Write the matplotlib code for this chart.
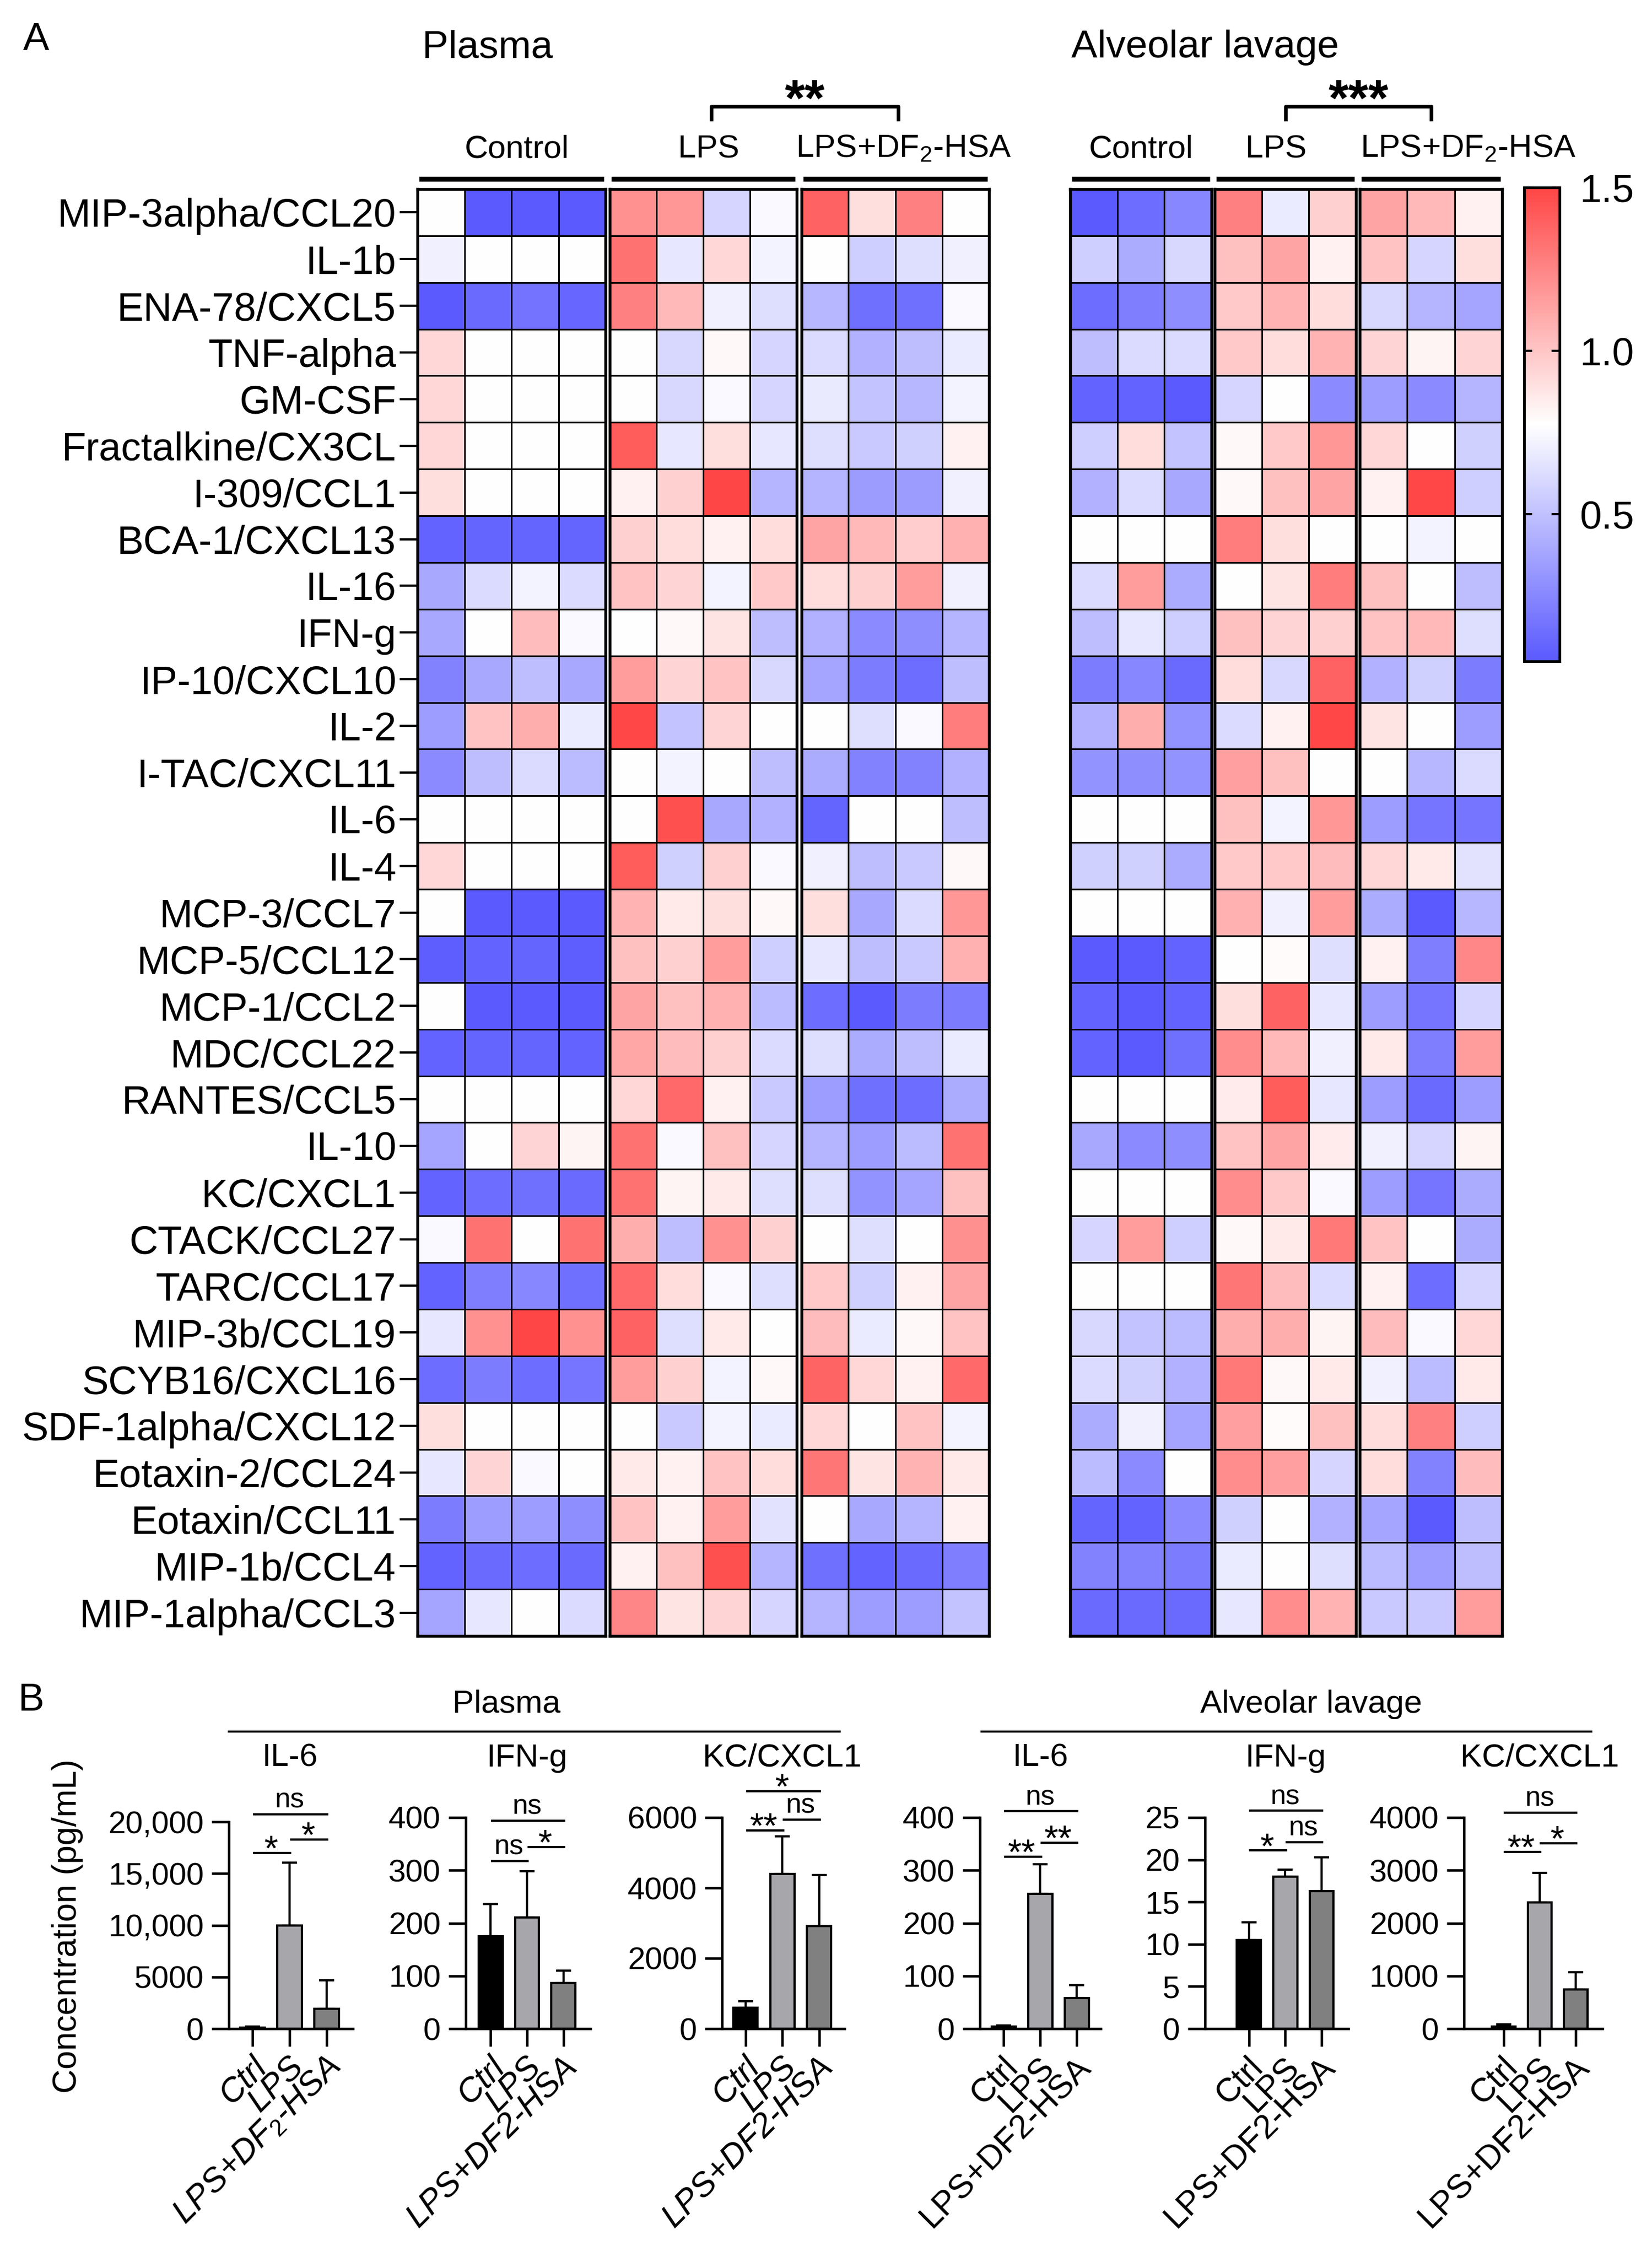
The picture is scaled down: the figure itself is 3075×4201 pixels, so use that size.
import matplotlib
matplotlib.use('Agg')
import matplotlib.pyplot as plt
import numpy as np
from matplotlib.colors import LinearSegmentedColormap, Normalize
from matplotlib.cm import ScalarMappable
from matplotlib.lines import Line2D
from matplotlib import transforms

plt.rcParams['font.family'] = ['Liberation Sans', 'DejaVu Sans']
plt.rcParams['mathtext.fontset'] = 'custom'
plt.rcParams['mathtext.rm'] = 'Liberation Sans'
plt.rcParams['mathtext.it'] = 'Liberation Sans:italic'
plt.rcParams['mathtext.bf'] = 'Liberation Sans:bold'

# ---------------- data: heatmap (panel A) ----------------
cytokines = ['MIP-3alpha/CCL20', 'IL-1b', 'ENA-78/CXCL5', 'TNF-alpha', 'GM-CSF',
             'Fractalkine/CX3CL', 'I-309/CCL1', 'BCA-1/CXCL13', 'IL-16', 'IFN-g',
             'IP-10/CXCL10', 'IL-2', 'I-TAC/CXCL11', 'IL-6', 'IL-4', 'MCP-3/CCL7',
             'MCP-5/CCL12', 'MCP-1/CCL2', 'MDC/CCL22', 'RANTES/CCL5', 'IL-10',
             'KC/CXCL1', 'CTACK/CCL27', 'TARC/CCL17', 'MIP-3b/CCL19', 'SCYB16/CXCL16',
             'SDF-1alpha/CXCL12', 'Eotaxin-2/CCL24', 'Eotaxin/CCL11', 'MIP-1b/CCL4',
             'MIP-1alpha/CCL3']

heat_groups = ['Control', 'LPS', 'LPS+DF$_2$-HSA']

# plasma: 4 control, 4 LPS, 4 LPS+DF2-HSA
plasma_heat = [
    [0.78, 0.05, 0.05, 0.05, 1.20, 1.18, 0.59, 0.75, 1.39, 0.90, 1.27, 0.78],
    [0.71, 0.78, 0.78, 0.78, 1.33, 0.67, 0.93, 0.72, 0.78, 0.56, 0.63, 0.71],
    [0.05, 0.12, 0.16, 0.11, 1.27, 1.05, 0.71, 0.63, 0.46, 0.15, 0.15, 0.75],
    [0.93, 0.78, 0.78, 0.78, 0.78, 0.60, 0.80, 0.59, 0.62, 0.43, 0.49, 0.69],
    [0.93, 0.78, 0.78, 0.78, 0.78, 0.60, 0.75, 0.59, 0.68, 0.51, 0.46, 0.72],
    [0.93, 0.78, 0.78, 0.78, 1.41, 0.67, 0.90, 0.67, 0.63, 0.54, 0.57, 0.83],
    [0.90, 0.78, 0.78, 0.78, 0.83, 0.96, 1.50, 0.45, 0.45, 0.34, 0.34, 0.71],
    [0.09, 0.10, 0.10, 0.10, 0.96, 0.91, 0.83, 0.91, 1.13, 1.05, 0.97, 1.08],
    [0.39, 0.62, 0.72, 0.62, 1.01, 0.94, 0.72, 0.99, 0.91, 0.96, 1.16, 0.71],
    [0.39, 0.78, 1.04, 0.75, 0.78, 0.80, 0.88, 0.49, 0.43, 0.27, 0.28, 0.45],
    [0.23, 0.39, 0.49, 0.39, 1.16, 0.94, 1.01, 0.60, 0.38, 0.20, 0.14, 0.49],
    [0.35, 1.01, 1.09, 0.69, 1.49, 0.51, 0.94, 0.78, 0.78, 0.63, 0.75, 1.28],
    [0.27, 0.49, 0.62, 0.48, 0.78, 0.72, 0.78, 0.49, 0.41, 0.23, 0.23, 0.43],
    [0.78, 0.78, 0.78, 0.78, 0.78, 1.46, 0.39, 0.43, 0.10, 0.78, 0.78, 0.49],
    [0.93, 0.78, 0.78, 0.78, 1.41, 0.57, 0.96, 0.75, 0.71, 0.49, 0.54, 0.80],
    [0.78, 0.05, 0.05, 0.05, 1.07, 0.86, 0.90, 0.80, 0.90, 0.39, 0.62, 1.18],
    [0.07, 0.09, 0.10, 0.07, 1.02, 0.96, 1.16, 0.56, 0.67, 0.49, 0.54, 1.08],
    [0.78, 0.05, 0.05, 0.05, 1.13, 1.02, 1.08, 0.48, 0.14, 0.05, 0.20, 0.20],
    [0.09, 0.10, 0.10, 0.09, 1.12, 1.04, 0.96, 0.62, 0.63, 0.41, 0.49, 0.69],
    [0.78, 0.78, 0.78, 0.78, 0.93, 1.36, 0.83, 0.54, 0.35, 0.15, 0.14, 0.41],
    [0.38, 0.78, 0.94, 0.82, 1.33, 0.75, 1.02, 0.59, 0.45, 0.35, 0.48, 1.33],
    [0.09, 0.14, 0.15, 0.12, 1.33, 0.82, 0.86, 0.63, 0.63, 0.30, 0.38, 1.02],
    [0.75, 1.33, 0.78, 1.33, 1.09, 0.49, 1.20, 0.96, 0.78, 0.63, 0.78, 1.21],
    [0.09, 0.21, 0.25, 0.15, 1.36, 0.91, 0.75, 0.63, 0.99, 0.57, 0.83, 1.13],
    [0.67, 1.20, 1.50, 1.20, 1.39, 0.63, 0.86, 0.78, 1.04, 0.69, 0.80, 1.01],
    [0.14, 0.20, 0.14, 0.17, 1.16, 0.96, 0.72, 0.80, 1.38, 0.93, 0.83, 1.36],
    [0.90, 0.78, 0.78, 0.78, 0.78, 0.54, 0.72, 0.69, 0.93, 0.78, 1.01, 0.72],
    [0.67, 0.94, 0.75, 0.78, 0.86, 0.83, 1.01, 0.91, 1.31, 0.88, 1.07, 0.86],
    [0.20, 0.35, 0.35, 0.28, 1.01, 0.83, 1.16, 0.65, 0.78, 0.39, 0.45, 0.83],
    [0.09, 0.12, 0.14, 0.12, 0.83, 1.02, 1.46, 0.45, 0.15, 0.09, 0.12, 0.21],
    [0.38, 0.67, 0.78, 0.62, 1.25, 0.88, 0.94, 0.59, 0.45, 0.35, 0.35, 0.51],
]

# alveolar lavage: 3 control, 3 LPS, 3 LPS+DF2-HSA
lavage_heat = [
    [0.05, 0.14, 0.25, 1.27, 0.69, 0.96, 1.13, 1.05, 0.83],
    [0.56, 0.41, 0.60, 1.02, 1.13, 0.83, 1.01, 0.59, 0.90],
    [0.14, 0.21, 0.28, 0.99, 1.07, 0.91, 0.60, 0.45, 0.38],
    [0.49, 0.62, 0.62, 0.99, 0.91, 1.07, 0.94, 0.82, 0.94],
    [0.09, 0.09, 0.05, 0.59, 0.78, 0.27, 0.35, 0.27, 0.45],
    [0.56, 0.91, 0.51, 0.80, 0.99, 1.18, 0.93, 0.78, 0.57],
    [0.43, 0.62, 0.39, 0.80, 1.02, 1.13, 0.83, 1.49, 0.56],
    [0.78, 0.78, 0.78, 1.28, 0.90, 0.78, 0.78, 0.72, 0.78],
    [0.62, 1.16, 0.41, 0.78, 0.88, 1.28, 1.02, 0.78, 0.49],
    [0.49, 0.67, 0.56, 1.02, 0.94, 0.96, 1.01, 1.05, 0.63],
    [0.20, 0.25, 0.12, 0.91, 0.60, 1.39, 0.43, 0.57, 0.20],
    [0.43, 1.09, 0.30, 0.62, 0.83, 1.49, 0.88, 0.78, 0.35],
    [0.30, 0.28, 0.30, 1.15, 1.02, 0.78, 0.78, 0.46, 0.62],
    [0.78, 0.78, 0.78, 1.02, 0.72, 1.18, 0.35, 0.17, 0.17],
    [0.57, 0.57, 0.41, 0.99, 0.99, 1.04, 0.93, 0.86, 0.65],
    [0.78, 0.78, 0.78, 1.08, 0.71, 1.16, 0.41, 0.05, 0.46],
    [0.05, 0.05, 0.09, 0.78, 0.79, 0.63, 0.83, 0.21, 1.24],
    [0.09, 0.05, 0.09, 0.90, 1.39, 0.67, 0.35, 0.17, 0.59],
    [0.09, 0.05, 0.15, 1.22, 1.05, 0.71, 0.86, 0.21, 1.16],
    [0.78, 0.78, 0.78, 0.85, 1.41, 0.67, 0.35, 0.12, 0.35],
    [0.39, 0.27, 0.28, 1.01, 1.13, 0.85, 0.71, 0.59, 0.82],
    [0.78, 0.78, 0.78, 1.22, 0.99, 0.75, 0.35, 0.17, 0.41],
    [0.59, 1.16, 0.56, 0.80, 0.86, 1.30, 1.01, 0.78, 0.41],
    [0.78, 0.78, 0.78, 1.31, 1.04, 0.62, 0.83, 0.14, 0.59],
    [0.60, 0.51, 0.48, 1.09, 1.09, 0.82, 1.04, 0.75, 0.93],
    [0.62, 0.57, 0.43, 1.30, 0.80, 0.86, 0.71, 0.48, 0.86],
    [0.41, 0.71, 0.38, 1.15, 0.79, 1.02, 0.91, 1.27, 0.56],
    [0.48, 0.27, 0.78, 1.22, 1.15, 0.59, 0.91, 0.23, 1.04],
    [0.10, 0.09, 0.27, 0.57, 0.78, 0.43, 0.38, 0.05, 0.49],
    [0.23, 0.23, 0.20, 0.69, 0.78, 0.63, 0.48, 0.35, 0.49],
    [0.12, 0.12, 0.12, 0.67, 1.22, 1.07, 0.54, 0.54, 1.16],
]

# ---------------- data: bar charts (panel B) ----------------
bar_groups = ['Ctrl', 'LPS', 'LPS+DF2-HSA']
bar_groups_sub = ['Ctrl', 'LPS', 'LPS+DF$_2$-HSA']

plasma_il6_mean = [80, 10000, 1900]
plasma_il6_sd = [120, 6070, 2750]
plasma_ifng_mean = [175, 211, 87]
plasma_ifng_sd = [61, 87, 23]
plasma_kc_mean = [600, 4400, 2920]
plasma_kc_sd = [180, 1070, 1440]
lavage_il6_mean = [3.6, 255, 58]
lavage_il6_sd = [3, 56, 24]
lavage_ifng_mean = [10.5, 18.0, 16.3]
lavage_ifng_sd = [2.1, 0.8, 4.0]
lavage_kc_mean = [43, 2390, 744]
lavage_kc_sd = [43, 558, 322]

# significance: (from, to, label, height)
plasma_il6_sig = [(0, 1, '*', 16990), (1, 2, '*', 18290), (0, 2, 'ns', 20730)]
plasma_ifng_sig = [(0, 1, 'ns', 318), (1, 2, '*', 344), (0, 2, 'ns', 394)]
plasma_kc_sig = [(0, 1, '**', 5635), (1, 2, 'ns', 5946), (0, 2, '*', 6751)]
lavage_il6_sig = [(0, 1, '**', 326), (1, 2, '**', 352), (0, 2, 'ns', 412)]
lavage_ifng_sig = [(0, 1, '*', 21.1), (1, 2, 'ns', 22.1), (0, 2, 'ns', 25.8)]
lavage_kc_sig = [(0, 1, '**', 3349), (1, 2, '*', 3513), (0, 2, 'ns', 4093)]

# ---------------- layout helpers (pixel coords, origin top-left) ----------------
W, H = 3075, 4201
DPI = 300
fig = plt.figure(figsize=(W / DPI, H / DPI), dpi=DPI)


def box(x0, y0, x1, y1):
    return [x0 / W, 1 - y1 / H, (x1 - x0) / W, (y1 - y0) / H]


def ftext(x, y, s, **kw):
    fig.text(x / W, 1 - y / H, s, **kw)


def fline(xs, ys, **kw):
    fig.add_artist(Line2D([x / W for x in xs], [1 - y / H for y in ys],
                          transform=fig.transFigure, **kw))


cmap = LinearSegmentedColormap.from_list('gp_bwr', ['#5a5aff', '#ffffff', '#ff4646'])
norm = Normalize(vmin=0.05, vmax=1.5)

HM_TOP, HM_BOT = 352, 3045


def draw_heatmap(data, edges, nper, label_x, with_labels):
    arr = np.array(data)
    nrow = arr.shape[0]
    for k, (x0, x1) in enumerate(edges):
        ax = fig.add_axes(box(x0, HM_TOP, x1, HM_BOT))
        sub = arr[:, k * nper:(k + 1) * nper]
        ax.pcolormesh(np.arange(nper + 1), np.arange(nrow + 1), sub, cmap=cmap,
                      norm=norm, edgecolors='black', linewidth=0.7)
        ax.set_xlim(0, nper)
        ax.set_ylim(nrow, 0)
        ax.set_xticks([])
        if k == 0 and with_labels:
            ax.set_yticks(np.arange(nrow) + 0.5)
            ax.set_yticklabels(cytokines, fontsize=17.8)
            ax.tick_params(axis='y', length=8, width=1.0, pad=1.5)
        else:
            ax.set_yticks([])
        for sp in ax.spines.values():
            sp.set_linewidth(1.3)
        # group bar and label above
        fline([x0 + 3, x1 - 3], [333, 333], color='black', lw=2.2, solid_capstyle='butt')
        ftext(label_x[k], 293, heat_groups[k], fontsize=14.5, ha='center', va='baseline')


plasma_edges = [(777, 1127), (1135, 1483), (1492, 1841)]
lavage_edges = [(1992, 2255), (2261, 2524), (2531, 2796)]
draw_heatmap(plasma_heat, plasma_edges, 4, [962, 1319, 1682], True)
draw_heatmap(lavage_heat, lavage_edges, 3, [2124, 2375, 2733], False)

ftext(67, 93, 'A', fontsize=17.5, ha='center', va='baseline')
ftext(907, 107, 'Plasma', fontsize=17.5, ha='center', va='baseline')
ftext(2243, 107, 'Alveolar lavage', fontsize=17.5, ha='center', va='baseline')

# brackets with significance between LPS and LPS+DF2-HSA
for (bx0, bx1, stars) in [(1324, 1672, '**'), (2393, 2664, '***')]:
    fline([bx0, bx0, bx1, bx1], [222, 198, 198, 222], color='black', lw=1.6)
    ftext((bx0 + bx1) / 2, 214, stars, fontsize=23, fontweight='bold', ha='center', va='baseline')

# colorbar
cax = fig.add_axes(box(2837, 349, 2903, 1231))
cb = fig.colorbar(ScalarMappable(norm=norm, cmap=cmap), cax=cax, ticks=[0.5, 1.0, 1.5])
cb.ax.tick_params(direction='in', length=3.5, width=1.0, left=True, right=True,
                  labelsize=17.5, pad=9)
cb.outline.set_linewidth(1.2)

# ---------------- panel B ----------------
bar_colors = ['#000000', '#a6a6ab', '#808080']
Y0 = 3776

panels = [
    dict(x=(426, 657), top=3391, xlim=(-0.64, 2.71), ymax=20000,
         yt=[0, 5000, 10000, 15000, 20000], ytl=['0', '5000', '10,000', '15,000', '20,000'],
         mean=plasma_il6_mean, sd=plasma_il6_sd, sig=plasma_il6_sig, title='IL-6',
         xl=bar_groups_sub, italic=True),
    dict(x=(867, 1099), top=3383, xlim=(-0.68, 2.74), ymax=400,
         yt=[0, 100, 200, 300, 400], ytl=None,
         mean=plasma_ifng_mean, sd=plasma_ifng_sd, sig=plasma_ifng_sig, title='IFN-g',
         xl=bar_groups, italic=True),
    dict(x=(1344, 1572), top=3383, xlim=(-0.64, 2.69), ymax=6000,
         yt=[0, 2000, 4000, 6000], ytl=None,
         mean=plasma_kc_mean, sd=plasma_kc_sd, sig=plasma_kc_sig, title='KC/CXCL1',
         xl=bar_groups, italic=True),
    dict(x=(1824, 2049), top=3383, xlim=(-0.65, 2.66), ymax=400,
         yt=[0, 100, 200, 300, 400], ytl=None,
         mean=lavage_il6_mean, sd=lavage_il6_sd, sig=lavage_il6_sig, title='IL-6',
         xl=bar_groups, italic=False),
    dict(x=(2243, 2510), top=3383, xlim=(-1.21, 2.74), ymax=25,
         yt=[0, 5, 10, 15, 20, 25], ytl=None,
         mean=lavage_ifng_mean, sd=lavage_ifng_sd, sig=lavage_ifng_sig, title='IFN-g',
         xl=bar_groups, italic=False),
    dict(x=(2725, 2983), top=3383, xlim=(-1.10, 2.75), ymax=4000,
         yt=[0, 1000, 2000, 3000, 4000], ytl=None,
         mean=lavage_kc_mean, sd=lavage_kc_sd, sig=lavage_kc_sig, title='KC/CXCL1',
         xl=bar_groups, italic=False),
]

label_shift = transforms.ScaledTranslation(-4 / DPI, 0, fig.dpi_scale_trans)

for p in panels:
    ax = fig.add_axes(box(p['x'][0], p['top'], p['x'][1], Y0))
    xs = np.arange(3)
    ax.bar(xs, p['mean'], width=0.66, color=bar_colors, edgecolor='black',
           linewidth=1.0, zorder=2)
    ax.errorbar(xs, p['mean'], yerr=[np.zeros(3), p['sd']], fmt='none', ecolor='black',
                elinewidth=1.0, capsize=3.4, capthick=1.0, zorder=1)
    ax.set_xlim(*p['xlim'])
    ax.set_ylim(0, p['ymax'])
    for side in ['top', 'right']:
        ax.spines[side].set_visible(False)
    for side in ['left', 'bottom']:
        ax.spines[side].set_linewidth(1.1)
    ax.set_yticks(p['yt'])
    if p['ytl'] is not None:
        ax.set_yticklabels(p['ytl'])
    ax.tick_params(axis='y', length=7.7, width=1.1, labelsize=14, pad=3.5)
    ax.set_xticks(xs)
    ax.set_xticklabels(p['xl'], rotation=45, ha='right', va='top', rotation_mode='anchor',
                       fontsize=15, style='italic' if p['italic'] else 'normal')
    ax.tick_params(axis='x', length=8, width=1.1, pad=2)
    for lab in ax.get_xticklabels():
        lab.set_transform(lab.get_transform() + label_shift)

    for (i, j, lab, yv) in p['sig']:
        ax.plot([i + 0.04, j + 0.02], [yv, yv], color='black', lw=1.0, clip_on=False)
        if lab == 'ns':
            ax.annotate(lab, xy=((i + j) / 2, yv), xytext=(0, 2.9), textcoords='offset points',
                        ha='center', va='baseline', fontsize=12.5, annotation_clip=False)
        else:
            ax.annotate(lab, xy=((i + j) / 2, yv), xytext=(0, -3.3), textcoords='offset points',
                        ha='center', va='baseline', fontsize=16, annotation_clip=False)

    tr = transforms.blended_transform_factory(ax.transData, fig.transFigure)
    ax.text(1, 1 - 3288 / H, p['title'], transform=tr, ha='center', va='baseline', fontsize=14.5)

ftext(58, 3184, 'B', fontsize=17.5, ha='center', va='baseline')
ftext(943, 3188, 'Plasma', fontsize=14.5, ha='center', va='baseline')
ftext(2440, 3188, 'Alveolar lavage', fontsize=14.5, ha='center', va='baseline')
fline([426, 1563], [3223, 3223], color='black', lw=0.9)
fline([1827, 2962], [3223, 3223], color='black', lw=0.9)
ftext(126, 3585, 'Concentration (pg/mL)', fontsize=15, rotation=90, ha='center', va='center')

fig.savefig('out.png', dpi=DPI)
